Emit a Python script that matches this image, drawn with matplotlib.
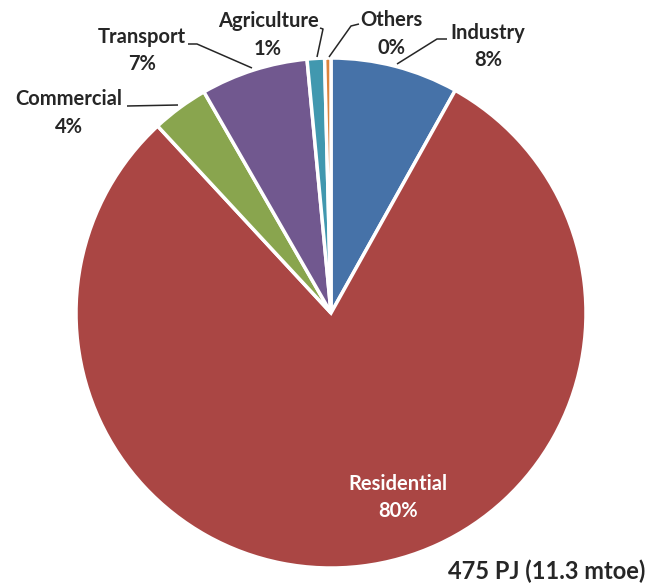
import matplotlib
matplotlib.use("Agg")
import matplotlib.pyplot as plt

# Final energy consumption by sector (share of total, %)
sectors = ["Industry", "Residential", "Commercial", "Transport", "Agriculture", "Others"]
shares = [8.1, 80.0, 3.6, 6.8, 1.1, 0.4]
colors = ["#4672A8", "#AA4644", "#89A54E", "#71588F", "#4198AF", "#DB843D"]
total_label = "475 PJ (11.3 mtoe)"

W, H = 646, 585
fig = plt.figure(figsize=(W / 100, H / 100), dpi=100)
ax = fig.add_axes([0, 0, 1, 1])
ax.set_xlim(0, W)
ax.set_ylim(0, H)
ax.set_aspect("equal")
ax.axis("off")

cx, cy, r = 331, H - 313, 255
explode = [0.025 if s == "Residential" else 0.0 for s in sectors]

wedges, _ = ax.pie(
    shares, colors=colors, startangle=90, counterclock=False,
    center=(cx, cy), radius=r, explode=explode,
    wedgeprops=dict(edgecolor="white", linewidth=2.5),
)
ax.set_xlim(0, W)
ax.set_ylim(0, H)

font = dict(family="Lato", fontweight="bold", fontsize=14.5)
dark = "#262626"

def pct(v):
    return f"{int(v + 0.5)}%"

# label block centres (pixel space, y from top) and leader lines
label_pos = {
    "Industry": (488, 46.5),
    "Others": (391, 34),
    "Agriculture": (268, 35),
    "Transport": (142, 50.5),
    "Commercial": (69, 113),
}
leaders = {
    "Industry": [(447, 39), (437, 39), (397, 64)],
    "Others": [(359, 24), (351, 26), (329, 57)],
    "Agriculture": [(320, 28), (323, 29), (317, 57)],
    "Transport": [(188, 44), (197, 44), (252, 68)],
    "Commercial": [(127, 106), (178, 105)],
}

for name, v in zip(sectors, shares):
    if name == "Residential":
        ax.text(398, H - 497.5, f"{name}\n{pct(v)}", ha="center", va="center",
                color="white", linespacing=1.45, **font)
        continue
    x, y = label_pos[name]
    ax.text(x, H - y, f"{name}\n{pct(v)}", ha="center", va="center",
            color=dark, linespacing=1.45, **font)
    pts = leaders[name]
    ax.plot([p[0] for p in pts], [H - p[1] for p in pts], color="#262626",
            linewidth=1.1, solid_capstyle="butt")

ax.text(W - 1, H - 571, total_label, ha="right", va="center", color=dark,
        family="Lato", fontweight="bold", fontsize=17)

fig.savefig("out.png", dpi=100)
